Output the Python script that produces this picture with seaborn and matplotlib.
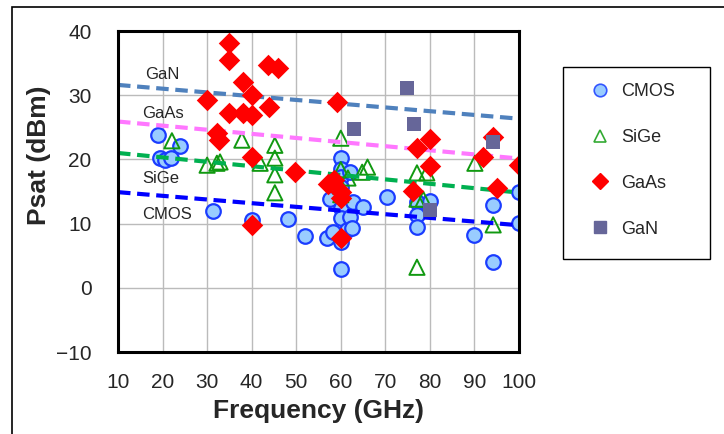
import numpy as np
import pandas as pd
import matplotlib
matplotlib.use("Agg")
import matplotlib.pyplot as plt
import seaborn as sns
from matplotlib.lines import Line2D
from matplotlib.patches import Rectangle

# Datos: frecuencia (GHz) y Psat (dBm) por tecnologia
cmos_f = [19, 19.4, 20.5, 22, 24, 31.3, 40, 48.2, 52, 57, 57.6, 58.3, 60, 60, 60, 60, 60,
          60, 60, 60, 61.4, 62, 62, 62.5, 62.7, 65, 70.4, 77.1, 77.1, 77.1, 80, 90, 94.2,
          94.2, 100, 100]
cmos_p = [23.8, 20.2, 19.9, 20.2, 22.1, 12.0, 10.5, 10.7, 8.1, 7.7, 13.8, 8.7, 20.2, 18.5,
          17.3, 15.7, 12.4, 10.9, 7.1, 3.0, 9.0, 18.0, 11.0, 9.3, 13.4, 12.6, 14.1, 13.4,
          11.3, 9.5, 13.5, 8.2, 12.9, 4.0, 14.9, 10.1]

sige_f = [22.1, 30, 32.2, 32.9, 37.8, 41.9, 45.2, 45.2, 45.2, 45.2, 60, 60, 61.6, 60, 60,
          64.8, 66, 77.1, 79.3, 77.1, 78.5, 90.1, 94.2, 77.1]
sige_p = [22.9, 19.1, 19.4, 19.6, 23.0, 19.4, 22.2, 20.2, 17.6, 14.8, 23.3, 18.4, 17.1,
          15.8, 14.5, 18.0, 18.8, 17.9, 17.9, 13.8, 13.8, 19.4, 9.8, 3.2]

gaas_f = [30, 32.2, 32.7, 34.9, 34.9, 34.9, 38, 38, 40, 40.1, 43.7, 45.9, 43.9, 40.1, 40,
          49.7, 59.2, 57.1, 58.5, 60, 60, 60, 77.1, 80, 80, 76.3, 92, 94.2, 95, 100]
gaas_p = [29.3, 24.1, 23.0, 38.1, 35.5, 27.2, 32.1, 27.2, 30.0, 26.9, 34.7, 34.2, 28.2,
          20.4, 9.8, 18.0, 29.0, 16.2, 16.8, 14.9, 14.0, 7.8, 21.8, 23.2, 18.9, 15.1, 20.4,
          23.5, 15.5, 19.1]

gan_f = [63, 74.9, 76.4, 80, 94.2]
gan_p = [24.7, 31.1, 25.5, 12.1, 22.7]

# Lineas de tendencia (valores en 10 y 99 GHz)
trend_f = [10, 99]
trend_gan = [31.6, 26.4]
trend_gaas = [25.9, 20.2]
trend_sige = [21.0, 14.9]
trend_cmos = [14.9, 9.8]

sns.set_style("white")
plt.rcParams['font.family'] = ['Liberation Sans', 'DejaVu Sans']

fig = plt.figure(figsize=(7.24, 4.34), dpi=100)
ax = fig.add_axes([118 / 724, 1 - 352 / 434, 401 / 724, 321 / 434])

# Puntos
sns.scatterplot(x=cmos_f, y=cmos_p, ax=ax, marker='o', s=110, color='#99CCFF',
                edgecolor='#1A3CFF', linewidth=1.6, zorder=2)
sns.scatterplot(x=sige_f, y=sige_p, ax=ax, marker='^', s=120, color='none',
                edgecolor='#119911', linewidth=1.4, zorder=2.2)
ax.collections[-1].set_facecolor('none')
ax.collections[-1].set_edgecolor('#119911')

# Tendencias
sns.lineplot(x=trend_f, y=trend_gan, ax=ax, color='#4F81BD', lw=3, zorder=2.5)
sns.lineplot(x=trend_f, y=trend_gaas, ax=ax, color='#FF77FF', lw=3, zorder=2.5)
sns.lineplot(x=trend_f, y=trend_sige, ax=ax, color='#00B050', lw=3, zorder=2.5)
sns.lineplot(x=trend_f, y=trend_cmos, ax=ax, color='#0000FF', lw=3, zorder=2.5)
for ln in ax.lines:
    ln.set_linestyle((0, (3, 1.6)))

sns.scatterplot(x=gaas_f, y=gaas_p, ax=ax, marker='D', s=120, color='#FF0000',
                edgecolor='#FF0000', linewidth=0, zorder=3)
sns.scatterplot(x=gan_f, y=gan_p, ax=ax, marker='s', s=100, color='#666699',
                edgecolor='#666699', linewidth=0, zorder=3.1)

# Etiquetas de las tendencias
ax.text(16, 33.2, "GaN", fontsize=12, ha='left', va='center')
ax.text(15.5, 27.2, "GaAs", fontsize=12, ha='left', va='center')
ax.text(15.5, 17.0, "SiGe", fontsize=12, ha='left', va='center')
ax.text(15.5, 11.4, "CMOS", fontsize=12, ha='left', va='center')

ax.set_xlim(10, 100)
ax.set_ylim(-10, 40)
ax.set_xticks(range(10, 101, 10))
ax.set_yticks(range(-10, 41, 10))
ax.set_yticklabels(['\u221210', '0', '10', '20', '30', '40'])
ax.tick_params(axis='both', length=0, labelsize=15)
ax.tick_params(axis='x', pad=15)
ax.tick_params(axis='y', pad=19)
ax.grid(True, color='#BBBBBB', lw=1)
for sp in ax.spines.values():
    sp.set_color('black')
    sp.set_linewidth(2.2)
    sp.set_zorder(4)

ax.set_xlabel("Frequency (GHz)", fontsize=19, fontweight='bold')
ax.set_ylabel("Psat (dBm)", fontsize=19, fontweight='bold')
ax.xaxis.set_label_coords(0.5, -0.145)
ax.yaxis.set_label_coords(-0.168, 0.614)

# Leyenda (marco dibujado aparte)
handles = [
    Line2D([], [], ls='none', marker='o', ms=9, mfc='#99CCFF', mec='#3355FF', mew=1.2),
    Line2D([], [], ls='none', marker='^', ms=9, mfc='none', mec='#33AA33', mew=1.2),
    Line2D([], [], ls='none', marker='D', ms=8, mfc='#FF0000', mec='#FF0000'),
    Line2D([], [], ls='none', marker='s', ms=8, mfc='#666699', mec='#666699'),
]
fig.legend(handles, ["CMOS", "SiGe", "GaAs", "GaN"], loc='upper left',
           bbox_to_anchor=(589 / 724, 1 - 83 / 434), fontsize=13, frameon=False,
           labelspacing=1.6, borderpad=0, handlelength=1.2, handletextpad=0.58,
           borderaxespad=0)
fig.add_artist(Rectangle((563 / 724, 1 - 259 / 434), 147 / 724, 192 / 434,
                         transform=fig.transFigure, fill=False, edgecolor='black', lw=1.0))

# Marco de la figura
fig.add_artist(Rectangle((12 / 724, -0.1), 1.2, 1 - 7 / 434 + 0.1, transform=fig.transFigure,
                         fill=False, edgecolor='black', lw=1.2))

fig.savefig("out.png", dpi=100)
